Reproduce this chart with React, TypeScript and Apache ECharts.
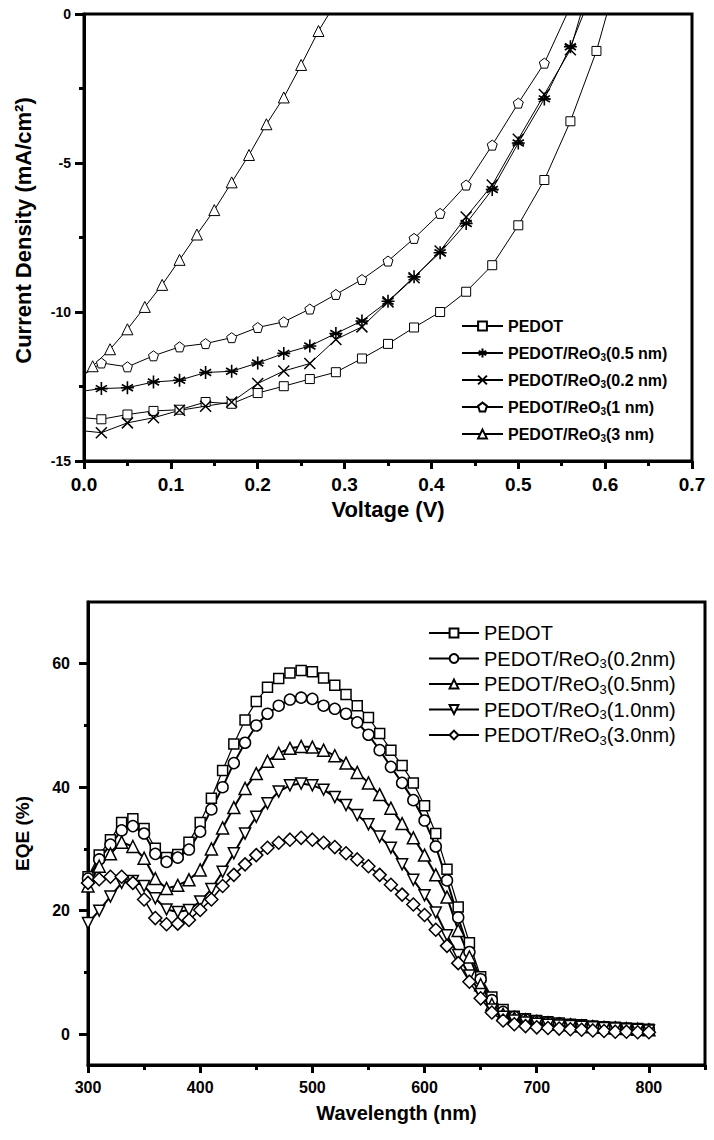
import React, { useEffect, useRef } from 'react';
import * as echarts from 'echarts';

const FONT = "'Liberation Sans', Arial, Helvetica, sans-serif";

// ---------- Top chart: J-V ----------
const jvNames = [
  'PEDOT',
  'PEDOT/ReO3(0.5 nm)',
  'PEDOT/ReO3(0.2 nm)',
  'PEDOT/ReO3(1 nm)',
  'PEDOT/ReO3(3 nm)',
];

const vPEDOT = [0, 0.02, 0.05, 0.08, 0.11, 0.14, 0.17, 0.2, 0.23, 0.26, 0.29, 0.32, 0.35, 0.38, 0.41, 0.44, 0.47, 0.5, 0.53, 0.56, 0.59, 0.602];
const jPEDOT = [-13.55, -13.6, -13.44, -13.32, -13.28, -13.02, -13.08, -12.72, -12.49, -12.25, -12.02, -11.56, -11.07, -10.52, -10.0, -9.32, -8.43, -7.09, -5.57, -3.6, -1.24, 0];

const vRe05 = [0, 0.02, 0.05, 0.08, 0.11, 0.14, 0.17, 0.2, 0.23, 0.26, 0.29, 0.32, 0.35, 0.38, 0.41, 0.44, 0.47, 0.5, 0.53, 0.56, 0.575];
const jRe05 = [-12.65, -12.57, -12.54, -12.35, -12.29, -12.03, -11.99, -11.71, -11.39, -11.14, -10.72, -10.3, -9.64, -8.82, -8.01, -7.03, -5.89, -4.33, -2.85, -1.1, 0];

const vRe02 = [0, 0.02, 0.05, 0.08, 0.11, 0.14, 0.17, 0.2, 0.23, 0.26, 0.29, 0.32, 0.35, 0.38, 0.41, 0.44, 0.47, 0.5, 0.53, 0.56, 0.572];
const jRe02 = [-13.99, -14.05, -13.72, -13.55, -13.3, -13.16, -13.02, -12.4, -11.98, -11.73, -10.92, -10.5, -9.66, -8.85, -7.95, -6.81, -5.74, -4.2, -2.7, -1.2, 0];

const vRe1 = [0, 0.02, 0.05, 0.08, 0.11, 0.14, 0.17, 0.2, 0.23, 0.26, 0.29, 0.32, 0.35, 0.38, 0.41, 0.44, 0.47, 0.5, 0.53, 0.556];
const jRe1 = [-12.1, -11.71, -11.84, -11.47, -11.17, -11.06, -10.86, -10.52, -10.33, -9.9, -9.41, -8.91, -8.29, -7.53, -6.69, -5.74, -4.4, -2.99, -1.65, 0];

const vRe3 = [0, 0.01, 0.03, 0.05, 0.07, 0.09, 0.11, 0.13, 0.15, 0.17, 0.19, 0.21, 0.23, 0.25, 0.27, 0.282];
const jRe3 = [-12.1, -11.82, -11.25, -10.58, -9.83, -9.09, -8.25, -7.4, -6.58, -5.65, -4.73, -3.7, -2.8, -1.71, -0.57, 0];

const jvXTicks = [0, 0.1, 0.2, 0.3, 0.4, 0.5, 0.6, 0.7];
const jvYTicks = [-15, -10, -5, 0];

// ---------- Bottom chart: EQE ----------
const eqeNames = [
  'PEDOT',
  'PEDOT/ReO3(0.2nm)',
  'PEDOT/ReO3(0.5nm)',
  'PEDOT/ReO3(1.0nm)',
  'PEDOT/ReO3(3.0nm)',
];

const wavelength = [300, 310, 320, 330, 340, 350, 360, 370, 380, 390, 400, 410, 420, 430, 440, 450, 460, 470, 480, 490, 500, 510, 520, 530, 540, 550, 560, 570, 580, 590, 600, 610, 620, 630, 640, 650, 660, 670, 680, 690, 700, 710, 720, 730, 740, 750, 760, 770, 780, 790, 800];

const eqePEDOT = [25.5, 29.0, 31.5, 34.3, 34.9, 33.3, 30.1, 28.6, 29.1, 31.1, 34.3, 38.2, 42.7, 47.0, 50.9, 53.9, 56.2, 57.6, 58.5, 58.9, 58.7, 57.7, 56.5, 55.0, 53.2, 51.3, 48.7, 46.0, 43.5, 40.7, 37.0, 32.5, 26.7, 20.6, 14.8, 9.3, 6.0, 4.0, 2.9, 2.5, 2.2, 2.0, 1.8, 1.6, 1.5, 1.3, 1.2, 1.1, 1.0, 0.9, 0.8];
const eqeRe02 = [25.2, 28.3, 30.7, 33.0, 33.7, 32.5, 29.2, 27.9, 28.6, 29.9, 32.8, 36.4, 40.0, 43.9, 47.2, 50.0, 51.9, 53.2, 54.2, 54.5, 54.3, 53.2, 52.7, 51.9, 50.5, 48.5, 46.0, 43.3, 40.7, 37.9, 34.6, 30.4, 24.9, 18.9, 13.3, 8.9, 5.5, 3.6, 2.8, 2.4, 2.1, 1.9, 1.7, 1.5, 1.4, 1.2, 1.1, 1.0, 0.9, 0.8, 0.7];
const eqeRe05 = [24.0, 27.2, 29.2, 31.1, 30.4, 28.5, 25.2, 23.6, 24.1, 25.0, 26.6, 30.0, 33.4, 36.7, 39.8, 42.2, 44.2, 45.5, 46.3, 46.6, 46.5, 46.0, 45.1, 43.9, 42.4, 40.7, 38.8, 36.6, 34.1, 31.8, 29.0, 25.8, 22.2, 16.8, 12.5, 8.0, 4.8, 3.2, 2.6, 2.3, 2.0, 1.8, 1.6, 1.5, 1.3, 1.2, 1.1, 1.0, 0.9, 0.8, 0.7];
const eqeRe10 = [18.0, 20.0, 22.3, 24.5, 24.8, 24.0, 22.0, 20.2, 19.8, 20.1, 21.5, 23.5, 26.3, 29.3, 32.5, 35.2, 37.4, 39.3, 40.3, 40.6, 40.3, 39.6, 38.4, 37.1, 35.5, 34.0, 32.0, 30.2, 27.5, 25.0, 22.5, 19.7, 16.0, 12.8, 9.5, 6.5, 4.0, 2.8, 2.2, 1.9, 1.7, 1.5, 1.4, 1.3, 1.2, 1.1, 1.0, 0.9, 0.8, 0.7, 0.6];
const eqeRe30 = [24.5, 25.1, 25.5, 25.5, 24.5, 21.8, 18.8, 17.8, 17.9, 18.5, 20.1, 21.8, 24.0, 25.8, 27.5, 29.0, 30.2, 31.0, 31.5, 31.8, 31.5, 31.0, 30.3, 29.3, 28.3, 27.2, 25.8, 24.2, 22.6, 21.0, 19.3, 16.9, 14.3, 11.5, 8.5, 5.8, 3.5, 2.2, 1.6, 1.3, 1.1, 1.0, 0.9, 0.8, 0.7, 0.6, 0.5, 0.4, 0.4, 0.3, 0.3];

const eqeXRange = [300, 850];
const eqeYRange = [-5, 70];
const eqeXTicks = [300, 400, 500, 600, 700, 800];
const eqeXMinor = [350, 450, 550, 650, 750, 850];
const eqeYTicks = [0, 20, 40, 60];
const eqeYMinor = [10, 30, 50];

// ---------- symbols ----------
const SYM_STAR = 'path://M5,0L5,10M0.7,2.5L9.3,7.5M0.7,7.5L9.3,2.5M0,5L10,5';
const SYM_X = 'path://M0,0L10,10M0,10L10,0';
const SYM_PENT = 'path://M5,0L10,3.8L8.1,10L1.9,10L0,3.8Z';
const SYM_DTRI = 'path://M0,0L10,0L5,9Z';

// first point (V = 0) and last point (J = 0) only carry the line to the axes
const jvData = (xs: number[], ys: number[]) =>
  xs.map((x, i) =>
    i === 0 || i === xs.length - 1 ? { value: [x, ys[i]], symbol: 'none' } : [x, ys[i]]
  );

const subFmt = (name: string) => name.replace('ReO3', 'ReO{sub|3}');

function topOption(): any {
  const mk = (name: string, xs: number[], ys: number[], symbol: string, size: number, bw = 1) => ({
    type: 'line',
    name,
    data: jvData(xs, ys),
    symbol,
    symbolSize: size,
    showAllSymbol: true,
    lineStyle: { color: '#000', width: 1 },
    itemStyle: { color: '#fff', borderColor: '#000', borderWidth: bw },
    emphasis: { disabled: true },
    z: 3,
  });
  const tickStyle = { color: '#000', width: 3 };
  return {
    animation: false,
    backgroundColor: '#fff',
    grid: {
      left: 84, top: 14, width: 608, height: 447,
      show: true, borderColor: '#000', borderWidth: 3, backgroundColor: 'transparent',
    },
    legend: {
      orient: 'vertical',
      left: 456,
      top: 311,
      itemWidth: 41,
      itemHeight: 11,
      itemGap: 7,
      selectedMode: false,
      data: jvNames,
      formatter: subFmt,
      textStyle: {
        fontFamily: FONT, fontWeight: 'bold', fontSize: 16, color: '#000', lineHeight: 20,
        rich: {
          sub: { fontFamily: FONT, fontWeight: 'bold', fontSize: 10, color: '#000', lineHeight: 12, padding: [8, 0, 0, 0] },
        },
      },
    },
    xAxis: {
      type: 'value',
      min: jvXTicks[0],
      max: jvXTicks[jvXTicks.length - 1],
      interval: 0.1,
      name: 'Voltage (V)',
      nameLocation: 'middle',
      nameGap: 24,
      nameTextStyle: { fontFamily: FONT, fontWeight: 'bold', fontSize: 22, color: '#000' },
      axisLine: { show: true, onZero: false, lineStyle: { color: '#000', width: 3 } },
      axisTick: { show: true, length: 8, lineStyle: tickStyle },
      minorTick: { show: true, splitNumber: 2, length: 5, lineStyle: tickStyle },
      axisLabel: {
        margin: 14, fontFamily: FONT, fontWeight: 'bold', fontSize: 19, color: '#000',
        formatter: (v: number) => v.toFixed(1),
      },
      splitLine: { show: false },
      minorSplitLine: { show: false },
    },
    yAxis: {
      type: 'value',
      min: jvYTicks[0],
      max: jvYTicks[jvYTicks.length - 1],
      interval: 5,
      name: 'Current Density (mA/cm²)',
      nameLocation: 'middle',
      nameGap: 50,
      nameTextStyle: { fontFamily: FONT, fontWeight: 'bold', fontSize: 22, color: '#000', padding: [0, 0, 0, 14] },
      axisLine: { show: true, onZero: false, lineStyle: { color: '#000', width: 3 } },
      axisTick: { show: true, length: 9, lineStyle: tickStyle },
      minorTick: { show: true, splitNumber: 2, length: 5, lineStyle: tickStyle },
      axisLabel: { margin: 13, fontFamily: FONT, fontWeight: 'bold', fontSize: 14, color: '#000' },
      splitLine: { show: false },
      minorSplitLine: { show: false },
    },
    series: [
      mk(jvNames[0], vPEDOT, jPEDOT, 'rect', 9),
      mk(jvNames[1], vRe05, jRe05, SYM_STAR, 13, 1.6),
      mk(jvNames[2], vRe02, jRe02, SYM_X, 11, 1.5),
      mk(jvNames[3], vRe1, jRe1, SYM_PENT, 10),
      mk(jvNames[4], vRe3, jRe3, 'triangle', 11),
    ],
  };
}

function bottomOption(): any {
  const mk = (name: string, ys: number[], symbol: string, size: number, lw: number) => ({
    type: 'line',
    name,
    data: wavelength.map((w, i) => [w, ys[i]]),
    symbol,
    symbolSize: size,
    showAllSymbol: true,
    lineStyle: { color: '#000', width: lw },
    itemStyle: { color: '#fff', borderColor: '#000', borderWidth: 1.5 },
    emphasis: { disabled: true },
  });
  const tickStyle = { color: '#000', width: 3 };
  return {
    animation: false,
    backgroundColor: '#fff',
    grid: {
      left: 88, top: 42, width: 617, height: 463,
      show: true, borderColor: '#000', borderWidth: 3, backgroundColor: 'transparent',
    },
    legend: {
      orient: 'vertical',
      left: 423,
      top: 56,
      itemWidth: 50,
      itemHeight: 11,
      itemGap: 1.5,
      selectedMode: false,
      data: eqeNames,
      formatter: subFmt,
      textStyle: {
        fontFamily: FONT, fontSize: 20, color: '#000', lineHeight: 24,
        rich: {
          sub: { fontFamily: FONT, fontSize: 13, color: '#000', lineHeight: 14, padding: [10, 0, 0, 0] },
        },
      },
    },
    xAxis: [
      {
        type: 'value',
        min: eqeXRange[0],
        max: eqeXRange[1],
        interval: 100,
        name: 'Wavelength (nm)',
        nameLocation: 'middle',
        nameGap: 38,
        nameTextStyle: { fontFamily: FONT, fontWeight: 'bold', fontSize: 20, color: '#000' },
        axisLine: { show: true, onZero: false, lineStyle: { color: '#000', width: 3 } },
        axisTick: { show: true, length: 8, lineStyle: tickStyle, customValues: eqeXTicks },
        axisLabel: {
          margin: 14, fontFamily: FONT, fontWeight: 'bold', fontSize: 16, color: '#000',
          customValues: eqeXTicks,
        },
        splitLine: { show: false },
      },
      {
        type: 'value',
        min: eqeXRange[0],
        max: eqeXRange[1],
        position: 'bottom',
        axisLine: { show: false, onZero: false },
        axisTick: { show: true, length: 5, lineStyle: tickStyle, customValues: eqeXMinor },
        axisLabel: { show: false },
        splitLine: { show: false },
      },
    ],
    yAxis: [
      {
        type: 'value',
        min: eqeYRange[0],
        max: eqeYRange[1],
        name: 'EQE (%)',
        nameLocation: 'middle',
        nameGap: 56,
        nameTextStyle: { fontFamily: FONT, fontWeight: 'bold', fontSize: 19, color: '#000' },
        axisLine: { show: true, onZero: false, lineStyle: { color: '#000', width: 3 } },
        axisTick: { show: true, length: 9, lineStyle: tickStyle, customValues: eqeYTicks },
        axisLabel: {
          margin: 18, fontFamily: FONT, fontWeight: 'bold', fontSize: 16, color: '#000',
          customValues: eqeYTicks,
        },
        splitLine: { show: false },
      },
      {
        type: 'value',
        min: eqeYRange[0],
        max: eqeYRange[1],
        position: 'left',
        axisLine: { show: false, onZero: false },
        axisTick: { show: true, length: 4, lineStyle: tickStyle, customValues: eqeYMinor },
        axisLabel: { show: false },
        splitLine: { show: false },
      },
    ],
    series: [
      mk(eqeNames[0], eqePEDOT, 'rect', 10, 1.2),
      mk(eqeNames[1], eqeRe02, 'circle', 11, 2),
      mk(eqeNames[2], eqeRe05, 'triangle', 12, 2),
      mk(eqeNames[3], eqeRe10, SYM_DTRI, 11, 2),
      mk(eqeNames[4], eqeRe30, 'diamond', 13, 1.5),
    ],
  };
}

export default function App() {
  const topRef = useRef<HTMLDivElement>(null);
  const botRef = useRef<HTMLDivElement>(null);
  useEffect(() => {
    const c1 = echarts.init(topRef.current!, undefined, { renderer: 'svg' });
    c1.setOption(topOption());
    const c2 = echarts.init(botRef.current!, undefined, { renderer: 'svg' });
    c2.setOption(bottomOption());
    return () => {
      c1.dispose();
      c2.dispose();
    };
  }, []);
  return (
    <div style={{ position: 'absolute', left: 0, top: 0, width: 714, height: 1140, background: '#fff' }}>
      <div ref={topRef} style={{ width: 714, height: 560 }} />
      <div ref={botRef} style={{ width: 714, height: 580 }} />
    </div>
  );
}
